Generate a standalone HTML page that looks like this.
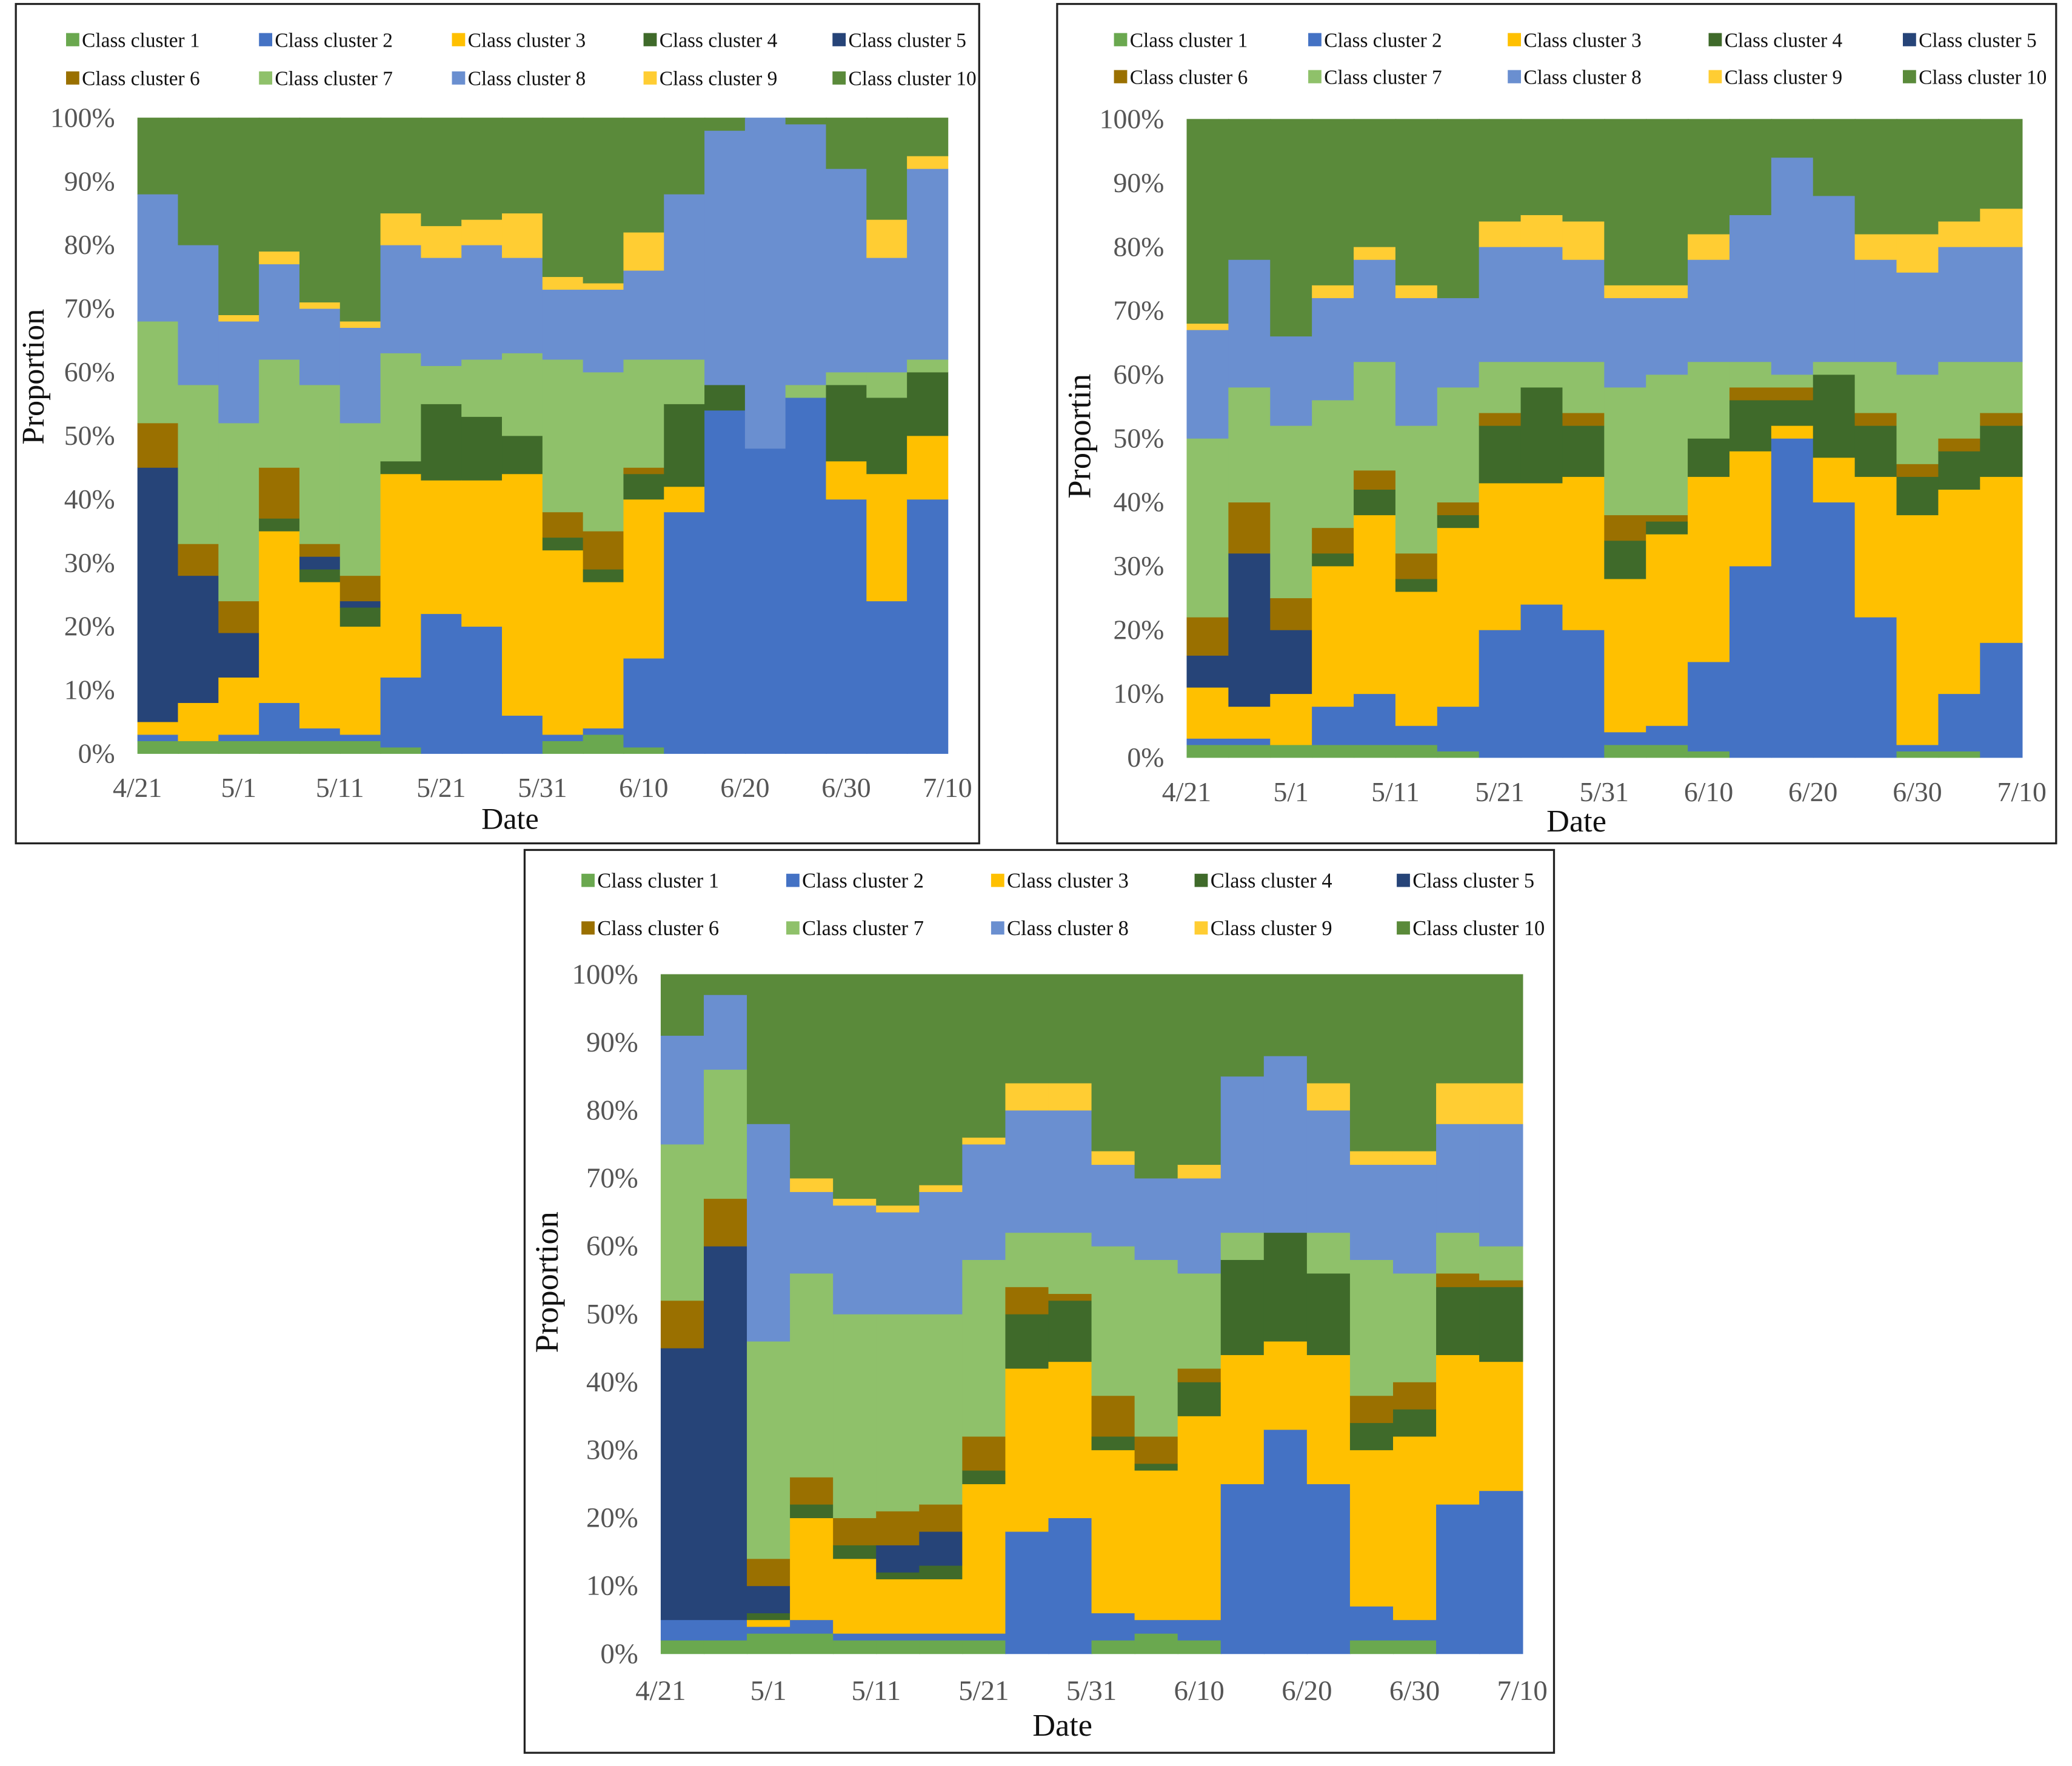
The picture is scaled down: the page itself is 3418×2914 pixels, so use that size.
<!DOCTYPE html>
<html><head><meta charset="utf-8"><style>
html,body{margin:0;padding:0;background:#fff}
svg{display:block}
text{font-family:"Liberation Serif",serif}
</style></head><body>
<svg id="fig" width="3418" height="2914" viewBox="0 0 1568 1336" preserveAspectRatio="none" xmlns="http://www.w3.org/2000/svg"></svg>
<script>
const seriesNames=["Class cluster 1","Class cluster 2","Class cluster 3","Class cluster 4","Class cluster 5","Class cluster 6","Class cluster 7","Class cluster 8","Class cluster 9","Class cluster 10"];
const colors=["#6aa84f","#4472c4","#ffc000","#3f6a2a","#264478","#9a7000","#8fc16a","#6a8fd0","#ffcd33","#5a8a3a"];
const barDays=[2,6,10,14,18,22,26,30,34,38,42,46,50,54,58,62,66,70,74,78];
const tickLabels=["4/21","5/1","5/11","5/21","5/31","6/10","6/20","6/30","7/10"];
const tickDays=[0,10,20,30,40,50,60,70,80];
const yTicks=[0,10,20,30,40,50,60,70,80,90,100];
// cumulative tops of clusters 1..9 per bar (cluster 10 fills to 100%)
const topsA=[
[2,3,5,5,45,52,68,88,88],[2,2,8,8,28,33,58,80,80],[2,3,12,12,19,24,52,68,69],[2,8,35,37,37,45,62,77,79],
[2,4,27,29,31,33,58,70,71],[2,3,20,23,24,28,52,67,68],[1,12,44,46,46,46,63,80,85],[0,22,43,55,55,55,61,78,83],
[0,20,43,53,53,53,62,80,84],[0,6,44,50,50,50,63,78,85],[2,3,32,34,34,38,62,73,75],[3,4,27,29,29,35,60,73,74],
[1,15,40,44,44,45,62,76,82],[0,38,42,55,55,55,62,88,88],[0,54,54,58,58,58,58,98,98],[0,48,48,48,48,48,48,100,100],
[0,56,56,56,56,56,58,99,99],[0,40,46,58,58,58,60,92,92],[0,24,44,56,56,56,60,78,84],[0,40,50,60,60,60,62,92,94]];
const topsB=[
[2,3,11,11,16,22,50,67,68],[2,3,8,8,32,40,58,78,78],[2,2,10,10,20,25,52,66,66],[2,8,30,32,32,36,56,72,74],
[2,10,38,42,42,45,62,78,80],[2,5,26,28,28,32,52,72,74],[1,8,36,38,38,40,58,72,72],[0,20,43,52,52,54,62,80,84],
[0,24,43,58,58,58,62,80,85],[0,20,44,52,52,54,62,78,84],[2,4,28,34,34,38,58,72,74],[2,5,35,37,37,38,60,72,74],
[1,15,44,50,50,50,62,78,82],[0,30,48,56,56,58,62,85,85],[0,50,52,56,56,58,60,94,94],[0,40,47,60,60,60,62,88,88],
[0,22,44,52,52,54,62,78,82],[1,2,38,44,44,46,60,76,82],[1,10,42,48,48,50,62,80,84],[0,18,44,52,52,54,62,80,86]];
const topsC=[
[2,5,5,5,45,52,75,91,91],[2,5,5,5,60,67,86,97,97],[3,4,5,6,10,14,46,78,78],[3,5,20,22,22,26,56,68,70],
[2,3,14,16,16,20,50,66,67],[2,3,11,12,16,21,50,65,66],[2,3,11,13,18,22,50,68,69],[2,3,25,27,27,32,58,75,76],
[0,18,42,50,50,54,62,80,84],[0,20,43,52,52,53,62,80,84],[2,6,30,32,32,38,60,72,74],[3,5,27,28,28,32,58,70,70],
[2,5,35,40,40,42,56,70,72],[0,25,44,58,58,58,62,85,85],[0,33,46,62,62,62,62,88,88],[0,25,44,56,56,56,62,80,84],
[2,7,30,34,34,38,58,72,74],[2,5,32,36,36,40,56,72,74],[0,22,44,54,54,56,62,78,84],[0,24,43,54,54,55,60,78,84]];

const NS="http://www.w3.org/2000/svg";
const svg=document.getElementById('fig');
function mk(tag,attrs,parent,txt){const e=document.createElementNS(NS,tag);for(const k in attrs)e.setAttribute(k,attrs[k]);if(txt!==undefined)e.textContent=txt;parent.appendChild(e);return e;}

function chart(cfg){
  const g=mk('g',{},svg);
  
  
  const fr=mk('rect',{x:cfg.frame[0],y:cfg.frame[1],width:cfg.frame[2],height:cfg.frame[3],fill:'#fff',stroke:'#222','stroke-width':1.5},g);
  
  
  const [px,py,pw,ph]=cfg.plot;
  const xs=d=>px+d/80*pw, ys=v=>py+ph-v/100*ph;
  const lg=mk('g',{},g);
  
  
  seriesNames.forEach((n,i)=>{
    const lx=cfg.legX[i%5], ly=cfg.legY[Math.floor(i/5)];
    const e=mk('g',{},lg);
    
    
    mk('rect',{x:lx,y:ly-6,width:10,height:10,fill:colors[i]},e);
    mk('text',{x:lx+12,y:ly+4.5,'font-size':cfg.legFs,fill:'#111'},e,n);
  });
  const bg=mk('g',{},g);
  
  
  cfg.tops.forEach((row,b)=>{
    const x0=xs(barDays[b]-2), x1=xs(barDays[b]+2);
    const t=row.concat([100]);
    let prev=0;
    t.forEach((v,k)=>{
      if(v>prev){
        const r=mk('rect',{x:x0,y:ys(v),width:x1-x0+0.6,height:ys(prev)-ys(v)+0.3,fill:colors[k]},bg);
        
        
      }
      prev=Math.max(prev,v);
    });
  });
  yTicks.forEach(v=>{
    const t=mk('text',{x:px-17,y:ys(v)+7,'font-size':cfg.tickFs,'text-anchor':'end',fill:'#555'},g,v+'%');
    
    
  });
  tickDays.forEach((d,i)=>{
    const t=mk('text',{x:xs(d),y:py+ph+cfg.xTickDy,'font-size':cfg.tickFs,'text-anchor':'middle',fill:'#555'},g,tickLabels[i]);
    
    
  });
  const xt=mk('text',{x:cfg.xTitle[0],y:cfg.xTitle[1],'font-size':cfg.titleFs,'text-anchor':'middle',fill:'#111'},g,'Date');
  
  
  const yt=mk('text',{x:0,y:0,'font-size':cfg.titleFs+1,'text-anchor':'middle',fill:'#111',transform:`translate(${cfg.yTitle[0]},${cfg.yTitle[1]}) rotate(-90)`},g,cfg.yTitleText);
  
  
}
chart({name:'chart-top-left',frame:[12,3,729,635],plot:[104,89,613,481],tops:topsA,
  legX:[50,196,342,487,630],legY:[31,60],legFs:15.3,tickFs:21,xTickDy:33,titleFs:23,
  xTitle:[386,627],yTitle:[33,285],yTitleText:'Proportion'});
chart({name:'chart-top-right',frame:[800,3,756,635],plot:[898,90,632,483],tops:topsB,
  legX:[843,990,1141,1293,1440],legY:[31,59],legFs:15.3,tickFs:21,xTickDy:33,titleFs:24,
  xTitle:[1193,629],yTitle:[825,330],yTitleText:'Proportin'});
chart({name:'chart-bottom',frame:[397,643,779,683],plot:[500,737,652,514],tops:topsC,
  legX:[440,595,750,904,1057],legY:[667,703],legFs:15.8,tickFs:21.5,xTickDy:35,titleFs:24,
  xTitle:[804,1313],yTitle:[422,970],yTitleText:'Proportion'});
</script>
</body></html>
